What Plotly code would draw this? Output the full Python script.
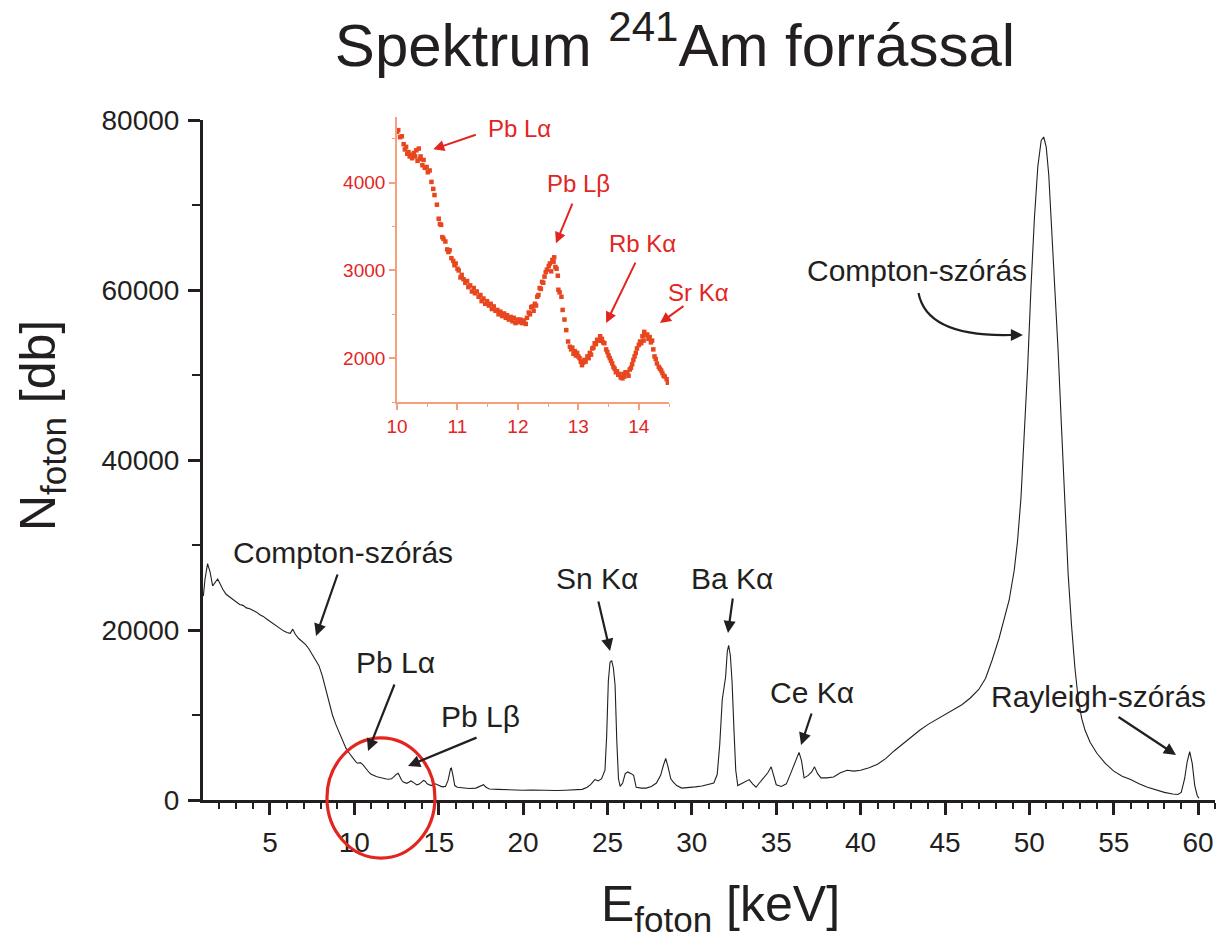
import plotly.graph_objects as go

# ---------------- data ----------------
main_E = [1.05, 1.15, 1.30, 1.45, 1.60, 1.75, 1.90, 2.05, 2.20, 2.40,
          2.60, 2.80, 3.00, 3.20, 3.40, 3.60, 3.80, 4.00, 4.20, 4.40,
          4.60, 4.80, 5.00, 5.20, 5.40, 5.60, 5.80, 6.00, 6.20, 6.35,
          6.50, 6.70, 6.90, 7.10, 7.30, 7.50, 7.70, 7.90, 8.10, 8.30,
          8.50, 8.70, 8.90, 9.10, 9.30, 9.50, 9.70, 9.90, 10.00, 10.10,
          10.20, 10.35, 10.50, 10.60, 10.70, 10.80, 10.90, 11.00, 11.10, 11.20,
          11.30, 11.40, 11.50, 11.60, 11.70, 11.80, 11.90, 12.00, 12.10, 12.20,
          12.30, 12.40, 12.50, 12.60, 12.70, 12.80, 12.90, 13.00, 13.10, 13.20,
          13.35, 13.45, 13.55, 13.70, 13.85, 13.95, 14.10, 14.20, 14.30, 14.45,
          14.60, 14.80, 15.00, 15.20, 15.40, 15.55, 15.70, 15.75, 15.85, 15.95,
          16.10, 16.40, 16.80, 17.20, 17.50, 17.65, 17.80, 18.00, 18.50, 19.00,
          19.50, 20.00, 20.50, 21.00, 21.50, 22.00, 22.50, 23.00, 23.50, 23.80,
          24.00, 24.25, 24.45, 24.65, 24.85, 24.95, 25.05, 25.15, 25.25, 25.35,
          25.45, 25.55, 25.65, 25.75, 25.90, 26.05, 26.20, 26.40, 26.55, 26.70,
          27.00, 27.30, 27.60, 27.90, 28.15, 28.30, 28.45, 28.60, 28.75, 28.90,
          29.10, 29.40, 29.80, 30.20, 30.60, 31.00, 31.30, 31.50, 31.65, 31.80,
          31.90, 32.00, 32.10, 32.18, 32.28, 32.38, 32.50, 32.60, 32.72, 32.90,
          33.10, 33.40, 33.60, 33.80, 34.00, 34.30, 34.50, 34.70, 34.85, 35.00,
          35.30, 35.60, 35.85, 36.10, 36.35, 36.50, 36.65, 36.90, 37.10, 37.27,
          37.45, 37.65, 38.00, 38.40, 38.80, 39.20, 39.60, 40.00, 40.50, 41.00,
          41.50, 42.00, 42.50, 43.00, 43.50, 44.00, 44.50, 45.00, 45.50, 46.00,
          46.50, 47.00, 47.40, 47.80, 48.20, 48.50, 48.80, 49.10, 49.30, 49.50,
          49.70, 49.90, 50.10, 50.30, 50.50, 50.70, 50.85, 51.00, 51.15, 51.30,
          51.50, 51.70, 51.90, 52.10, 52.30, 52.50, 52.70, 52.90, 53.10, 53.30,
          53.60, 54.00, 54.50, 55.00, 55.50, 56.00, 56.50, 57.00, 57.50, 58.00,
          58.50, 58.80, 59.00, 59.20, 59.35, 59.50, 59.65, 59.80, 59.95, 60.05]

main_N = [24000, 26000, 27800, 26800, 25200, 25600, 26000, 25400, 24800, 24200,
          23900, 23500, 23200, 23000, 22900, 22600, 22500, 22300, 22100, 21800,
          21600, 21300, 21000, 20700, 20400, 20200, 19900, 19700, 19600, 20100,
          19500, 19000, 18700, 18300, 17800, 17100, 16400, 15800, 14600, 13100,
          11500, 10000, 8900, 7900, 6900, 6100, 5500, 5000, 4650, 4450,
          4330, 4390, 4170, 3900, 3580, 3340, 3180, 3030, 2910, 2840,
          2770, 2700, 2640, 2590, 2530, 2500, 2470, 2440, 2440, 2510,
          2660, 2870, 3040, 3150, 2730, 2320, 2110, 2030, 1960, 2070,
          2240, 2130, 1950, 1780, 1870, 2060, 2300, 2210, 1940, 1780,
          1700, 1900, 1750, 1550, 1600, 2300, 3700, 3750, 2800, 1700,
          1500, 1400, 1350, 1400, 1650, 1800, 1500, 1300, 1250, 1200,
          1180, 1150, 1170, 1130, 1150, 1120, 1150, 1180, 1250, 1500,
          1800, 2400, 2250, 2500, 3500, 7500, 14000, 16200, 16400, 15500,
          13500, 7000, 2500, 1600, 2000, 3100, 3300, 3100, 2900, 1500,
          1400, 1400, 1600, 2000, 2900, 4000, 4900, 3800, 2500, 2100,
          1700, 1400, 1450, 1550, 1650, 1800, 2000, 3000, 6500, 11800,
          12900, 14500, 17500, 18200, 17000, 14000, 8000, 3500, 1700, 1900,
          2100, 2400, 1900, 1500, 2000, 2800, 3200, 3900, 2800, 1800,
          1600, 1900, 3100, 4300, 5600, 4600, 2600, 2900, 3300, 3900,
          3100, 2600, 2600, 2700, 3200, 3500, 3400, 3500, 3800, 4200,
          4900, 5800, 6600, 7500, 8200, 8900, 9500, 10000, 10600, 11200,
          12000, 13000, 14300, 16500, 19000, 21200, 23500, 27000, 30500, 35500,
          42500, 51000, 60500, 68500, 74500, 77600, 78000, 76800, 73500, 68000,
          61500, 53000, 44000, 34500, 26500, 20500, 15500, 11800, 9600, 8200,
          6800, 5500, 4300, 3400, 2800, 2400, 1900, 1500, 1200, 900,
          700, 650, 900, 2500, 4500, 5700, 4300, 1700, 500, 200]

inset_E = [10.00, 10.02, 10.05, 10.08, 10.11, 10.13, 10.15, 10.17, 10.19, 10.21,
           10.23, 10.25, 10.28, 10.30, 10.32, 10.34, 10.36, 10.38, 10.39, 10.42,
           10.44, 10.46, 10.49, 10.51, 10.54, 10.57, 10.60, 10.62, 10.66, 10.69,
           10.71, 10.73, 10.75, 10.77, 10.80, 10.83, 10.85, 10.87, 10.90, 10.93,
           10.95, 10.97, 11.00, 11.02, 11.05, 11.07, 11.10, 11.13, 11.16, 11.18,
           11.21, 11.24, 11.27, 11.29, 11.32, 11.35, 11.38, 11.40, 11.43, 11.46,
           11.49, 11.52, 11.55, 11.57, 11.60, 11.63, 11.66, 11.68, 11.71, 11.74,
           11.77, 11.80, 11.82, 11.85, 11.88, 11.91, 11.93, 11.96, 11.99, 12.02,
           12.04, 12.07, 12.10, 12.13, 12.15, 12.18, 12.20, 12.22, 12.24, 12.26,
           12.28, 12.30, 12.32, 12.34, 12.36, 12.38, 12.40, 12.42, 12.44, 12.46,
           12.48, 12.51, 12.53, 12.55, 12.57, 12.59, 12.60, 12.62, 12.64, 12.66,
           12.67, 12.69, 12.72, 12.74, 12.77, 12.80, 12.83, 12.86, 12.88, 12.90,
           12.92, 12.94, 12.96, 12.98, 13.00, 13.02, 13.04, 13.06, 13.08, 13.10,
           13.12, 13.15, 13.17, 13.19, 13.21, 13.23, 13.25, 13.27, 13.29, 13.31,
           13.34, 13.36, 13.38, 13.39, 13.41, 13.43, 13.46, 13.48, 13.50, 13.52,
           13.54, 13.56, 13.58, 13.60, 13.62, 13.64, 13.66, 13.68, 13.70, 13.73,
           13.75, 13.76, 13.78, 13.81, 13.83, 13.85, 13.87, 13.89, 13.91, 13.93,
           13.95, 13.97, 14.00, 14.02, 14.04, 14.06, 14.08, 14.09, 14.11, 14.14,
           14.16, 14.18, 14.20, 14.22, 14.24, 14.26, 14.28, 14.30, 14.33, 14.35,
           14.37, 14.39, 14.41, 14.43, 14.46, 14.48]

inset_N = [4580, 4600, 4520, 4530, 4440, 4380, 4410, 4330, 4350, 4300,
           4320, 4280, 4340, 4300, 4370, 4250, 4390, 4270, 4300, 4200,
           4260, 4170, 4180, 4120, 4140, 4010, 3930, 3860, 3750, 3590,
           3530, 3520, 3380, 3360, 3330, 3240, 3210, 3230, 3140, 3110,
           3060, 3080, 3020, 3000, 2920, 2950, 2900, 2860, 2880, 2810,
           2830, 2760, 2800, 2740, 2760, 2700, 2720, 2650, 2680, 2620,
           2650, 2600, 2620, 2560, 2590, 2540, 2550, 2500, 2530, 2480,
           2510, 2460, 2490, 2440, 2470, 2420, 2460, 2400, 2440, 2410,
           2440, 2400, 2430, 2390, 2460, 2520, 2500, 2580, 2590, 2540,
           2620, 2600, 2700, 2720, 2800, 2790, 2870, 2860, 2930, 2980,
           3010, 3050, 3080, 2990, 3120, 3100, 3150, 3040, 3020, 2940,
           2780, 2750, 2700, 2550, 2440, 2320, 2190, 2130, 2100, 2120,
           2050, 2080, 2030, 2060, 2020, 2000, 1960, 1920, 1950, 1980,
           1960, 2020, 2000, 2060, 2040, 2110, 2120, 2170, 2160, 2210,
           2200, 2250, 2200, 2220, 2180, 2170, 2100, 2070, 2030, 2000,
           1970, 1940, 1900, 1880, 1840, 1850, 1810, 1820, 1780, 1770,
           1820, 1790, 1840, 1830, 1800, 1870, 1890, 1930, 1980, 2020,
           2060, 2110, 2150, 2190, 2170, 2250, 2200, 2300, 2260, 2270,
           2220, 2240, 2180, 2200, 2100, 2020, 1990, 1940, 1900, 1880,
           1860, 1830, 1800, 1790, 1760, 1720]

assert len(main_E) == len(main_N)
assert len(inset_E) == len(inset_N)

FONT = "Liberation Sans, Arial, sans-serif"
BLACK = "#231f20"
RED = "#e2261f"
ORANGE = "#e8461e"
PEACH = "#f4a07c"

fig = go.Figure()
fig.add_trace(go.Scatter(x=main_E, y=main_N, mode="lines",
                         line=dict(color=BLACK, width=1.1),
                         xaxis="x", yaxis="y", showlegend=False))
fig.add_trace(go.Scatter(x=inset_E, y=inset_N, mode="markers",
                         marker=dict(color=ORANGE, size=4.5, symbol="square"),
                         xaxis="x2", yaxis="y2", showlegend=False))

# ---------------- annotations ----------------
ann = []
def label(text, x, y, size=30, color=BLACK):
    ann.append(dict(text=text, x=x, y=y, xref="paper", yref="paper",
                    xanchor="center", yanchor="middle", showarrow=False,
                    font=dict(family=FONT, size=size, color=color)))

def arrow(x, y, ax, ay, xref="x", yref="y", color=BLACK, width=2.2, size=1.1):
    ann.append(dict(text="", x=x, y=y, xref=xref, yref=yref, ax=ax, ay=ay,
                    showarrow=True, arrowhead=2, arrowsize=size,
                    arrowwidth=width, arrowcolor=color, standoff=0))

# main labels
label("Compton-szórás", 0.1383, 0.3594)
arrow(7.73, 19294, 22, -63)
label("Pb Lα", 0.1907, 0.1986)
arrow(10.81, 5765, 27, -68)
label("Pb Lβ", 0.2747, 0.1217)
arrow(13.18, 4000, 70, -29)
label("Sn Kα", 0.3893, 0.3217)
arrow(25.15, 17530, -12, -51)
label("Ba Kα", 0.5227, 0.3217)
arrow(32.14, 19647, 5, -36)
label("Ce Kα", 0.6018, 0.1551)
arrow(36.47, 6470, 11, -33)
label("Compton-szórás", 0.7055, 0.7667)
arrow(49.62, 54706, -20, 0)
label("Rayleigh-szórás", 0.8844, 0.1493)
arrow(58.69, 5294, -59, -39)

# inset labels
label("Pb Lα", 0.3123, 0.9725, size=24, color=RED)
arrow(10.60, 4382, 44, -15, xref="x2", yref="y2", color=RED, width=2)
label("Pb Lβ", 0.3706, 0.8928, size=24, color=RED)
arrow(12.63, 3311, 17, -41, xref="x2", yref="y2", color=RED, width=2)
label("Rb Kα", 0.4338, 0.8058, size=24, color=RED)
arrow(13.46, 2400, 30, -62, xref="x2", yref="y2", color=RED, width=2)
label("Sr Kα", 0.4901, 0.7362, size=24, color=RED)
arrow(14.35, 2400, 25, -18, xref="x2", yref="y2", color=RED, width=2)

# axis titles
ann.append(dict(text="E<sub>foton</sub> [keV]", x=0.511, y=-0.156, xref="paper", yref="paper",
                xanchor="center", yanchor="middle", showarrow=False,
                font=dict(family=FONT, size=50, color=BLACK)))
ann.append(dict(text="N<sub>foton</sub> [db]", x=-0.160, y=0.542, xref="paper", yref="paper",
                xanchor="center", yanchor="middle", showarrow=False, textangle=-90,
                font=dict(family=FONT, size=50, color=BLACK)))

shapes = [
    # curved arrow shaft for right Compton label
    dict(type="path", xref="x", yref="y",
         path="M 43.43,59647 C 43.85,55294 46.48,54588 48.90,54706",
         line=dict(color=BLACK, width=2.2)),
    # red circle around the magnified region
    dict(type="circle", xref="paper", yref="paper",
         x0=0.1225, x1=0.2292, y0=-0.0841, y1=0.0899,
         line=dict(color=RED, width=3.2), layer="above"),
]

fig.update_layout(
    width=1224, height=946,
    margin=dict(l=203, r=9, t=110, b=146),
    paper_bgcolor="white", plot_bgcolor="white",
    font=dict(family=FONT, color=BLACK),
    title=dict(text="Spektrum <sup>241</sup>Am forrással",
               x=675 / 1224, xanchor="center", xref="container",
               y=1 - 45 / 946, yanchor="middle", yref="container",
               font=dict(family=FONT, size=60, color=BLACK)),
    xaxis=dict(range=[1.03, 61.0], domain=[0, 1], anchor="y",
               showline=True, linecolor=BLACK, linewidth=3,
               ticks="outside", ticklen=12, tickwidth=2.5, tickcolor=BLACK,
               tick0=0, dtick=5, showgrid=False, zeroline=False,
               ticklabelstandoff=3,
               tickfont=dict(family=FONT, size=28, color=BLACK),
               minor=dict(dtick=1, tick0=0, ticks="outside", ticklen=6,
                          tickwidth=2.2, tickcolor=BLACK, showgrid=False)),
    yaxis=dict(range=[0, 80000], domain=[0, 680 / 690], anchor="x",
               showline=True, linecolor=BLACK, linewidth=3,
               ticks="outside", ticklen=12, tickwidth=2.5, tickcolor=BLACK,
               tick0=0, dtick=20000, tickformat="d", showgrid=False, zeroline=False,
               ticklabelstandoff=3,
               tickfont=dict(family=FONT, size=28, color=BLACK),
               minor=dict(dtick=10000, tick0=0, ticks="outside", ticklen=8,
                          tickwidth=2.2, tickcolor=BLACK, showgrid=False)),
    xaxis2=dict(range=[10, 14.5], domain=[0.1917, 0.4605], anchor="y2",
                showline=True, linecolor=PEACH, linewidth=1.6,
                ticks="outside", ticklen=6, tickwidth=1.5, tickcolor=PEACH,
                tick0=10, dtick=1, showgrid=False, zeroline=False,
                tickfont=dict(family=FONT, size=19, color=RED),
                minor=dict(dtick=0.5, tick0=10, ticks="outside", ticklen=3,
                           tickwidth=1.2, tickcolor=PEACH, showgrid=False)),
    yaxis2=dict(range=[1500, 4750], domain=[0.5768, 0.98986], anchor="x2",
                showline=True, linecolor=PEACH, linewidth=1.6,
                ticks="outside", ticklen=6, tickwidth=1.5, tickcolor=PEACH,
                tick0=0, dtick=1000, tickformat="d", showgrid=False, zeroline=False,
                tickfont=dict(family=FONT, size=19, color=RED),
                minor=dict(dtick=500, tick0=0, ticks="outside", ticklen=3,
                           tickwidth=1.2, tickcolor=PEACH, showgrid=False)),
    annotations=ann,
    shapes=shapes,
)

fig.write_html("out.html")
